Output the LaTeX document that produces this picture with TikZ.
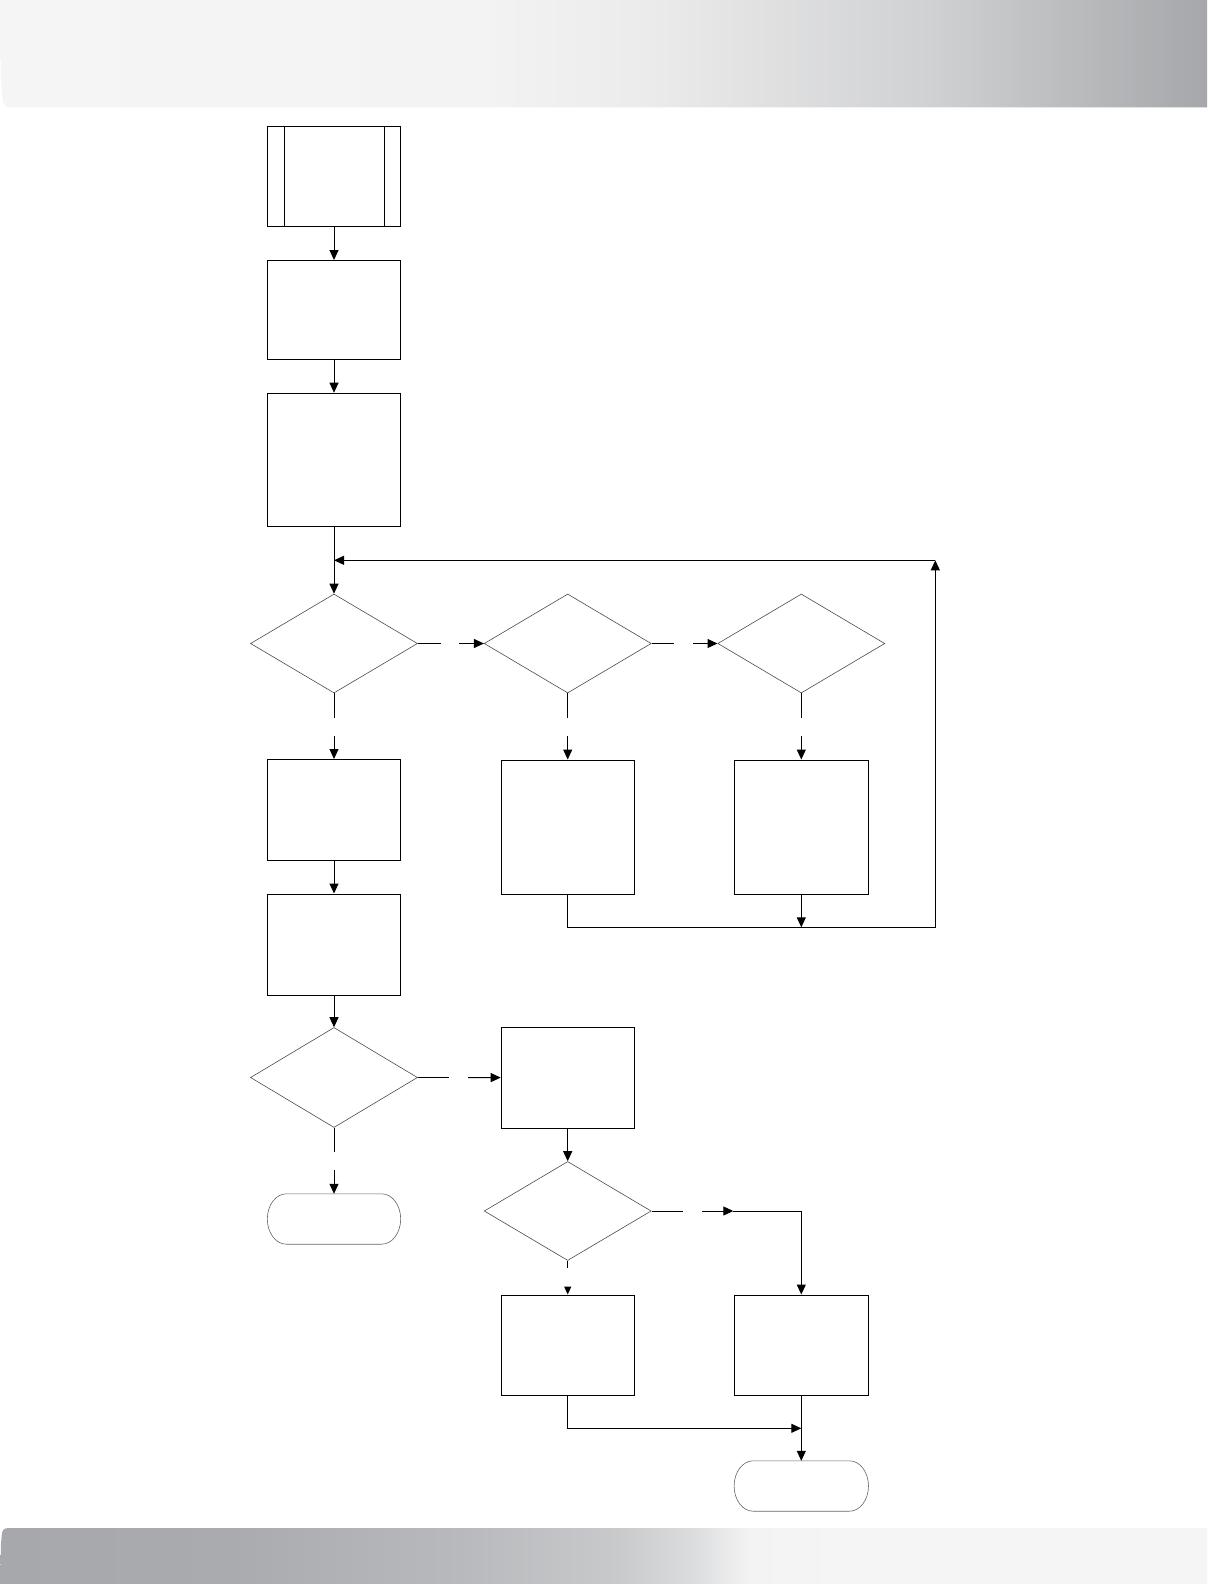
\documentclass[tikz,border=0pt]{standalone}
\usetikzlibrary{arrows.meta,shapes.geometric,calc}
\definecolor{hA}{HTML}{F5F5F5}
\definecolor{hB}{HTML}{F3F3F3}
\definecolor{hC}{HTML}{EBEBEB}
\definecolor{hD}{HTML}{D0D1D3}
\definecolor{hE}{HTML}{A6A7AA}
\definecolor{fA}{HTML}{A7A8AB}
\definecolor{fB}{HTML}{AAABAE}
\definecolor{fC}{HTML}{B8B9BC}
\definecolor{fD}{HTML}{C8C9CB}
\definecolor{fE}{HTML}{DCDDDF}
\definecolor{fF}{HTML}{F3F3F3}
\definecolor{fG}{HTML}{F5F5F5}
\pgfdeclarehorizontalshading{hdrshade}{100bp}{color(0bp)=(hA); color(25bp)=(hA); color(45bp)=(hB); color(52bp)=(hC); color(63.5bp)=(hD); color(75bp)=(hE); color(100bp)=(hE)}
\pgfdeclarehorizontalshading{ftrshade}{100bp}{color(0bp)=(fA); color(25bp)=(fA); color(34.5bp)=(fB); color(44bp)=(fC); color(50.5bp)=(fD); color(53.75bp)=(fE); color(56bp)=(fF); color(60bp)=(fG); color(75bp)=(fG); color(100bp)=(fG)}
\begin{document}
\begin{tikzpicture}[x=1pt,y=-1pt,
  box/.style={draw=black,line width=1pt,rectangle,inner sep=0pt,minimum width=133pt},
  dec/.style={draw=black!70,line width=0.6pt,diamond,inner sep=0pt,minimum width=167pt,minimum height=99pt},
  term/.style={rectangle,inner sep=0pt,minimum width=134pt,minimum height=50pt},
  termline/.style={draw=black!60,line width=0.6pt},
  conn/.style={draw=black,line width=1pt},
  arr/.style={conn,-{Triangle[length=10pt,width=9pt]}},
  sarr/.style={conn,-{Triangle[length=8pt,width=7pt]}}
]
\useasboundingbox (0,0) rectangle (1207,1584);
\fill[white] (0,0) rectangle (1207,1584);
% header and footer bands
\shade[shading=hdrshade] (1207,0) -- (0,0) -- (1,80) .. controls (3,105) .. (8,107.5) -- (1207,107.5) -- cycle;
\shade[shading=ftrshade] (1207,1584) -- (0,1584) -- (1,1545) .. controls (2,1529) .. (8,1528) -- (1207,1528) -- cycle;

% nodes
\node[box,minimum height=100pt] (sub) at (334,176.3) {};
\draw[line width=1pt] ($(sub.north west)+(17,0)$) -- ($(sub.south west)+(17,0)$);
\draw[line width=1pt] ($(sub.north east)+(-17,0)$) -- ($(sub.south east)+(-17,0)$);
\node[box,minimum height=99pt] (p1) at (334,310) {};
\node[box,minimum height=133pt] (p2) at (334,459.7) {};
\node[dec] (d1) at (334,643.5) {};
\node[dec] (d2) at (567.7,643.5) {};
\node[dec] (d3) at (801.3,643.5) {};
\node[box,minimum height=101pt] (p3) at (334,810) {};
\node[box,minimum height=134pt] (p4) at (567.7,827) {};
\node[box,minimum height=134pt,minimum width=134pt] (p5) at (801.3,827) {};
\node[box,minimum height=101pt] (p6) at (334,944.5) {};
\node[dec,minimum height=100pt] (d4) at (334,1077.5) {};
\node[box,minimum height=101pt] (p7) at (567.7,1077.6) {};
\node[term,minimum width=133pt] (t1) at (334,1219) {};
\node[dec] (d5) at (567.7,1211) {};
\node[box,minimum height=100pt] (p8) at (567.7,1345) {};
\node[box,minimum height=100pt,minimum width=134pt] (p9) at (801.3,1345) {};
\node[term] (t2) at (801.3,1486) {};
% terminal outlines (elliptical ends)
\foreach \t in {t1,t2}{
  \draw[termline] ($(\t.north west)+(19,0)$) -- ($(\t.north east)+(-19,0)$)
    .. controls ($(\t.north east)+(-8.5,0)$) and ($(\t.east)+(0,-13.8)$) .. (\t.east)
    .. controls ($(\t.east)+(0,13.8)$) and ($(\t.south east)+(-8.5,0)$) .. ($(\t.south east)+(-19,0)$)
    -- ($(\t.south west)+(19,0)$)
    .. controls ($(\t.south west)+(8.5,0)$) and ($(\t.west)+(0,13.8)$) .. (\t.west)
    .. controls ($(\t.west)+(0,-13.8)$) and ($(\t.north west)+(8.5,0)$) .. ($(\t.north west)+(19,0)$)
    -- cycle;
}

% coordinates
\coordinate (g1a) at (441,643.5);   \coordinate (g1b) at (459,643.5);
\coordinate (g2a) at (674,643.5);   \coordinate (g2b) at (693,643.5);
\coordinate (g3a) at (334,717.7);   \coordinate (g3b) at (334,736);
\coordinate (g4a) at (567.7,717.7); \coordinate (g4b) at (567.7,736);
\coordinate (g5a) at (801.3,717.7); \coordinate (g5b) at (801.3,736);
\coordinate (g6a) at (448.7,1077.5);\coordinate (g6b) at (468,1077.5);
\coordinate (g7a) at (334,1151.7);  \coordinate (g7b) at (334,1170);
\coordinate (g8a) at (682.7,1211);  \coordinate (g8b) at (702.3,1211);
\coordinate (m8) at (733.3,1211);
\coordinate (g9a) at (567.7,1268.3); \coordinate (g9b) at (567.7,1286.7);
\coordinate (lbr) at (935.3,927.3);
\coordinate (ltr) at (935.3,560.3);
\coordinate (lj) at (334,560.3);
\coordinate (mj) at (801.3,1428.3);

% connectors
\draw[arr] (sub) -- (p1);
\draw[arr] (p1) -- (p2);
\draw[arr] (p2) -- (d1);
\draw[conn] (d1.east) -- (g1a);
\draw[arr] (g1b) -- (d2.west);
\draw[conn] (d2.east) -- (g2a);
\draw[arr] (g2b) -- (d3.west);
\draw[conn] (d1.south) -- (g3a);
\draw[arr] (g3b) -- (p3.north);
\draw[conn] (d2.south) -- (g4a);
\draw[arr] (g4b) -- (p4.north);
\draw[conn] (d3.south) -- (g5a);
\draw[arr] (g5b) -- (p5.north);
\draw[arr] (p4.south) |- (lbr) -- (ltr);
\draw[arr] (ltr) -- (lj);
\draw[arr] (p5.south) -- (p5.south |- lbr);
\draw[arr] (p3) -- (p6);
\draw[arr] (p6) -- (d4);
\draw[conn] (d4.east) -- (g6a);
\draw[arr] (g6b) -- (p7.west);
\draw[conn] (d4.south) -- (g7a);
\draw[arr] (g7b) -- (t1.north);
\draw[arr] (p7) -- (d5);
\draw[conn] (d5.east) -- (g8a);
\draw[arr] (g8b) -- (m8);
\draw[arr] (m8) -| (p9.north);
\draw[conn] (d5.south) -- (g9a);
\draw[sarr] (g9b) -- (p8.north);
\draw[arr] (p8.south) |- (mj);
\draw[arr] (p9) -- (t2);
\end{tikzpicture}
\end{document}
